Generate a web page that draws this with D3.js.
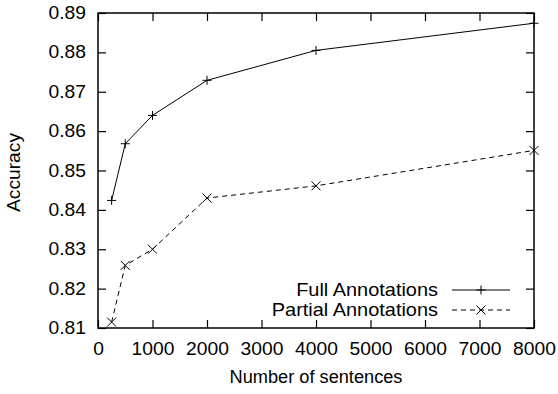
<!DOCTYPE html>
<html>
<head>
<meta charset="utf-8">
<script src="https://cdn.jsdelivr.net/npm/d3@7"></script>
<style>
  html, body { margin: 0; padding: 0; background: #fff; overflow: hidden; }
  svg { display: block; font-family: "Liberation Sans", Arial, sans-serif; }
</style>
</head>
<body>
<div id="chart"></div>
<script>
// data
const sentences = [250, 500, 1000, 2000, 4000, 8000];
const fullAnnotations = [0.8424, 0.8568, 0.8640, 0.8729, 0.8805, 0.8874];
const partialAnnotations = [0.8115, 0.8259, 0.8300, 0.8430, 0.8461, 0.8551];
const xTicks = [0, 1000, 2000, 3000, 4000, 5000, 6000, 7000, 8000];
const yTicks = [0.81, 0.82, 0.83, 0.84, 0.85, 0.86, 0.87, 0.88, 0.89];
const seriesNames = ['Full Annotations', 'Partial Annotations'];

const width = 558, height = 394;
const margin = { top: 13, right: 24, bottom: 66, left: 98 };
const innerWidth = width - margin.left - margin.right;
const innerHeight = height - margin.top - margin.bottom;
const tickLen = 8;
// the source figure is stretched sideways, so text is widened a little
const fontSize = 17.5;
const sx = 1.1;

const svg = d3.select('#chart').append('svg')
  .attr('width', width)
  .attr('height', height);

const g = svg.append('g')
  .attr('transform', `translate(${margin.left},${margin.top})`);

const xScale = d3.scaleLinear().domain([0, 8000]).range([0, innerWidth]);
const yScale = d3.scaleLinear().domain([0.81, 0.89]).range([innerHeight, 0]);

// gnuplot style: ticks point inward on all four sides
const xAxis = g.append('g')
  .attr('transform', `translate(0,${innerHeight})`)
  .call(d3.axisBottom(xScale).tickValues(xTicks).tickSize(-tickLen).tickPadding(15).tickFormat(d3.format('d')));
const xAxisTop = g.append('g')
  .call(d3.axisTop(xScale).tickValues(xTicks).tickSize(-tickLen).tickFormat(''));
const yAxis = g.append('g')
  .call(d3.axisLeft(yScale).tickValues(yTicks).tickSize(-tickLen).tickPadding(12).tickFormat(d3.format('.2f')));
const yAxisRight = g.append('g')
  .attr('transform', `translate(${innerWidth},0)`)
  .call(d3.axisRight(yScale).tickValues(yTicks).tickSize(-tickLen).tickFormat(''));

[xAxis, xAxisTop, yAxis, yAxisRight].forEach(a => {
  a.select('.domain').remove();
  a.selectAll('line').attr('stroke', '#000').attr('stroke-width', 1.2);
  a.selectAll('text')
    .attr('fill', '#000')
    .style('font-size', fontSize + 'px')
    .style('font-family', '"Liberation Sans", Arial, sans-serif');
});
// widen tick labels around their anchor
yAxis.selectAll('text').each(function() {
  const t = d3.select(this);
  t.attr('x', +t.attr('x') / sx).attr('transform', `scale(${sx},1)`);
});
xAxis.selectAll('text').attr('transform', `scale(${sx},1)`);

// frame
g.append('rect')
  .attr('width', innerWidth)
  .attr('height', innerHeight)
  .attr('fill', 'none')
  .attr('stroke', '#000')
  .attr('stroke-width', 1.5);

// axis titles
svg.append('text')
  .attr('transform', `translate(${margin.left + innerWidth / 2},383) scale(1.04,1)`)
  .attr('text-anchor', 'middle')
  .style('font-size', fontSize + 'px')
  .text('Number of sentences');

svg.append('text')
  .attr('transform', `translate(20,${margin.top + innerHeight / 2 + 2}) rotate(-90) scale(${sx},1)`)
  .attr('text-anchor', 'middle')
  .style('font-size', fontSize + 'px')
  .text('Accuracy');

// series
const line = d3.line()
  .x((d, i) => xScale(sentences[i]))
  .y(d => yScale(d));

const plusPath = (s) => `M${-s},0H${s}M0,${-s}V${s}`;
const crossPath = (s) => `M${-s},${-s}L${s},${s}M${-s},${s}L${s},${-s}`;

const series = [
  { name: seriesNames[0], values: fullAnnotations, dash: null, marker: plusPath(4.5) },
  { name: seriesNames[1], values: partialAnnotations, dash: '5,4', marker: crossPath(4.5) }
];

series.forEach(s => {
  g.append('path')
    .datum(s.values)
    .attr('d', line)
    .attr('fill', 'none')
    .attr('stroke', '#000')
    .attr('stroke-width', 1)
    .attr('stroke-dasharray', s.dash);

  g.selectAll(null)
    .data(s.values)
    .enter().append('path')
    .attr('transform', (d, i) => `translate(${xScale(sentences[i])},${yScale(d)})`)
    .attr('d', s.marker)
    .attr('fill', 'none')
    .attr('stroke', '#000')
    .attr('stroke-width', 1);
});

// legend
const legend = svg.append('g');
series.forEach((s, i) => {
  const y = 290 + i * 20;
  legend.append('text')
    .attr('transform', `translate(438,${y + 6}) scale(1.14,1)`)
    .attr('text-anchor', 'end')
    .style('font-size', fontSize + 'px')
    .text(s.name);
  legend.append('line')
    .attr('x1', 452).attr('x2', 510)
    .attr('y1', y).attr('y2', y)
    .attr('stroke', '#000')
    .attr('stroke-width', 1)
    .attr('stroke-dasharray', s.dash);
  legend.append('path')
    .attr('transform', `translate(481,${y})`)
    .attr('d', s.marker)
    .attr('fill', 'none')
    .attr('stroke', '#000')
    .attr('stroke-width', 1);
});
</script>
</body>
</html>
